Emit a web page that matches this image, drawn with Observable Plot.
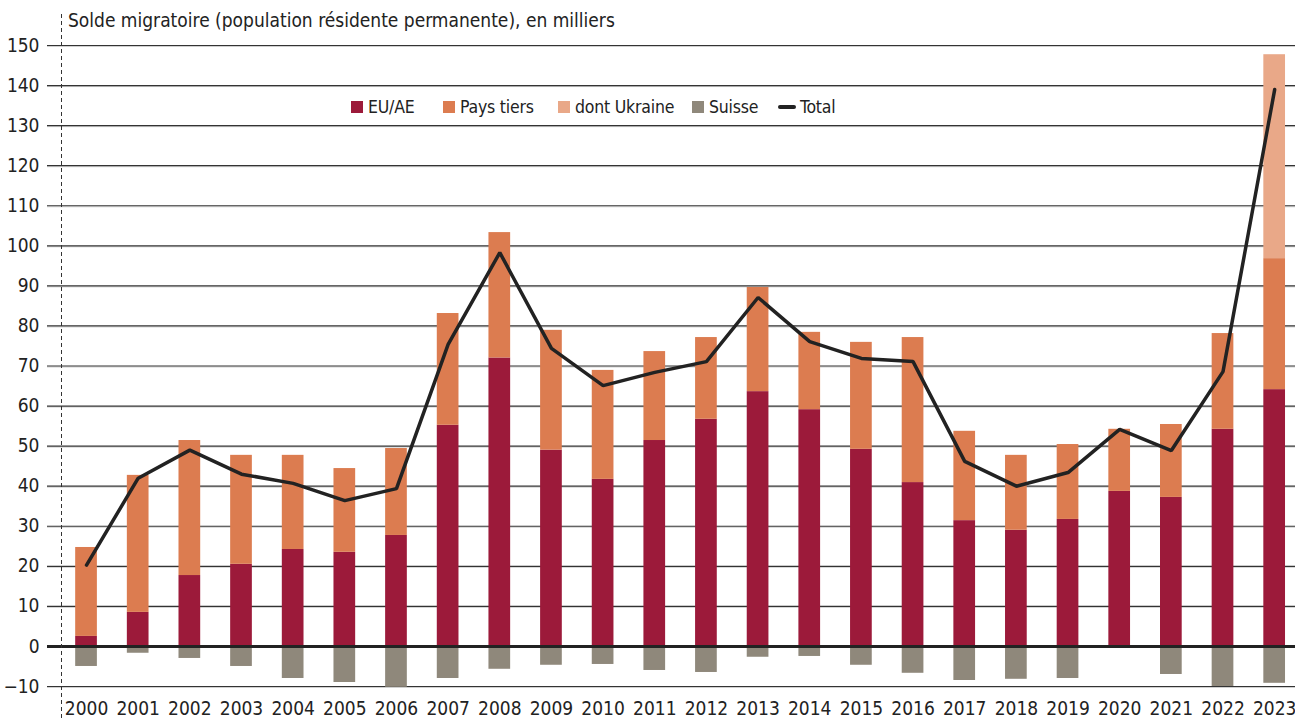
<!DOCTYPE html>
<html>
<head>
<meta charset="utf-8">
<script src="https://cdn.jsdelivr.net/npm/d3@7"></script>
<script src="https://cdn.jsdelivr.net/npm/@observablehq/plot@0.6"></script>
<style>
  html, body { margin: 0; padding: 0; background: #fff; }
  body { width: 1295px; height: 720px; overflow: hidden; }
  #wrap { position: relative; width: 1295px; height: 720px; font-family: 'Liberation Sans Narrow', 'DejaVu Sans Condensed', 'Roboto', sans-serif; color: #222; }
  #title { position: absolute; left: 68px; top: 9px; font-size: 19px; white-space: nowrap; z-index: 2; }
  .li { position: absolute; top: 97px; display: flex; align-items: center; font-size: 17.5px; letter-spacing: -0.2px; z-index: 2; white-space: nowrap; }
  .sw { width: 12px; height: 12px; margin-right: 5px; }
  .ln { width: 18px; height: 4px; border-radius: 2px; background: #222; margin-right: 4px; }
  #dash { position: absolute; left: 0; top: 0; z-index: 1; pointer-events: none; }
  svg.plot { position: absolute; left: 0; top: 0; }
</style>
</head>
<body>
<div id="wrap">
  <div id="title">Solde migratoire (population résidente permanente), en milliers</div>
</div>
<script>
const years = ["2000","2001","2002","2003","2004","2005","2006","2007","2008","2009","2010","2011","2012","2013","2014","2015","2016","2017","2018","2019","2020","2021","2022","2023"];
const euAe      = [2.5, 8.5, 17.7, 20.5, 24.2, 23.5, 27.7, 55.2, 72.0, 49.0, 41.7, 51.4, 56.7, 63.6, 59.1, 49.2, 40.9, 31.4, 29.0, 31.7, 38.7, 37.2, 54.2, 64.1];
const paysTiers = [22.2, 34.2, 33.7, 27.2, 23.5, 20.9, 21.7, 27.9, 31.3, 29.9, 27.2, 22.2, 20.4, 26.0, 19.3, 26.7, 36.2, 22.3, 18.7, 18.7, 15.5, 18.2, 23.9, 32.7];
const ukraine   = [0, 0, 0, 0, 0, 0, 0, 0, 0, 0, 0, 0, 0, 0, 0, 0, 0, 0, 0, 0, 0, 0, 0, 50.9];
const suisse    = [-5.0, -1.7, -3.0, -5.0, -8.0, -9.0, -10.2, -8.0, -5.7, -4.7, -4.5, -6.0, -6.5, -2.7, -2.5, -4.7, -6.7, -8.5, -8.2, -8.0, 0, -7.0, -10.0, -9.2];
const total     = [20.3, 42.0, 49.0, 43.0, 40.7, 36.4, 39.4, 75.4, 98.3, 74.4, 65.1, 68.4, 71.1, 87.1, 76.1, 71.9, 71.1, 46.2, 40.0, 43.4, 54.2, 48.9, 68.6, 139.0];
const categories = ["EU/AE", "Pays tiers", "dont Ukraine", "Suisse"];
const colors = ["#9c1a3a", "#dc7c50", "#e9a888", "#8f887b"];
const yTicks = [-10, 0, 10, 20, 30, 40, 50, 60, 70, 80, 90, 100, 110, 120, 130, 140, 150];

const series = [euAe, paysTiers, ukraine, suisse];
const long = [];
years.forEach((y, i) => {
  categories.forEach((c, k) => {
    const v = series[k][i];
    if (v !== 0) long.push({year: y, cat: c, value: v});
  });
});
const totals = years.map((y, i) => ({year: y, total: total[i]}));

const font = "'Liberation Sans Narrow', 'DejaVu Sans Condensed', 'Roboto', sans-serif";

const chart = Plot.plot({
  width: 1295,
  height: 720,
  marginTop: 45,
  marginBottom: 34,
  marginLeft: 47,
  marginRight: 0,
  style: {fontFamily: font, fontSize: "19px", color: "#222", background: "transparent"},
  x: {type: "band", domain: years, range: [60.2, 1300], paddingInner: 0.58, paddingOuter: 0.29, round: false, label: null},
  y: {domain: [-10, 150], label: null},
  color: {domain: categories, range: colors},
  marks: [
    Plot.ruleY(yTicks.filter(d => d !== 0), {y: d => d, stroke: "#d0d0d0", strokeWidth: 1, dy: 1}),
    Plot.ruleY(yTicks.filter(d => d !== 0), {y: d => d, stroke: "#333", strokeWidth: 1.2}),
    Plot.barY(long, Plot.stackY({x: "year", y: "value", fill: "cat", order: categories})),
    Plot.ruleY([0], {stroke: "#222", strokeWidth: 3}),
    Plot.lineY(totals, {x: "year", y: "total", stroke: "#222", strokeWidth: 3.5, strokeLinejoin: "miter", strokeLinecap: "round"}),
    Plot.axisY({ticks: yTicks, tickSize: 0, tickPadding: 8, tickFormat: d => d < 0 ? "\u2212" + Math.abs(d) : String(d), fill: "#222"}),
    Plot.axisX({tickSize: 0, tickPadding: 15, fill: "#222"})
  ]
});
const wrap = document.getElementById("wrap");
wrap.appendChild(chart);

// dashed vertical separator
const ns = "http://www.w3.org/2000/svg";
const dsvg = document.createElementNS(ns, "svg");
dsvg.setAttribute("id", "dash");
dsvg.setAttribute("width", 1295);
dsvg.setAttribute("height", 720);
const dl = document.createElementNS(ns, "line");
dl.setAttribute("x1", 61.5); dl.setAttribute("x2", 61.5);
dl.setAttribute("y1", 14); dl.setAttribute("y2", 720);
dl.setAttribute("stroke", "#333");
dl.setAttribute("stroke-width", 1);
dl.setAttribute("stroke-dasharray", "4,3");
dsvg.appendChild(dl);
wrap.appendChild(dsvg);

// legend
const legendX = [351, 443, 558, 692];
categories.forEach((c, k) => {
  const it = document.createElement("div");
  it.className = "li";
  it.style.left = legendX[k] + "px";
  const sw = document.createElement("div");
  sw.className = "sw";
  sw.style.background = colors[k];
  const tx = document.createElement("span");
  tx.textContent = c;
  it.appendChild(sw); it.appendChild(tx);
  wrap.appendChild(it);
});
const it = document.createElement("div");
it.className = "li";
it.style.left = "778px";
const ln = document.createElement("div");
ln.className = "ln";
const tx = document.createElement("span");
tx.textContent = "Total";
it.appendChild(ln); it.appendChild(tx);
wrap.appendChild(it);
</script>
</body>
</html>
